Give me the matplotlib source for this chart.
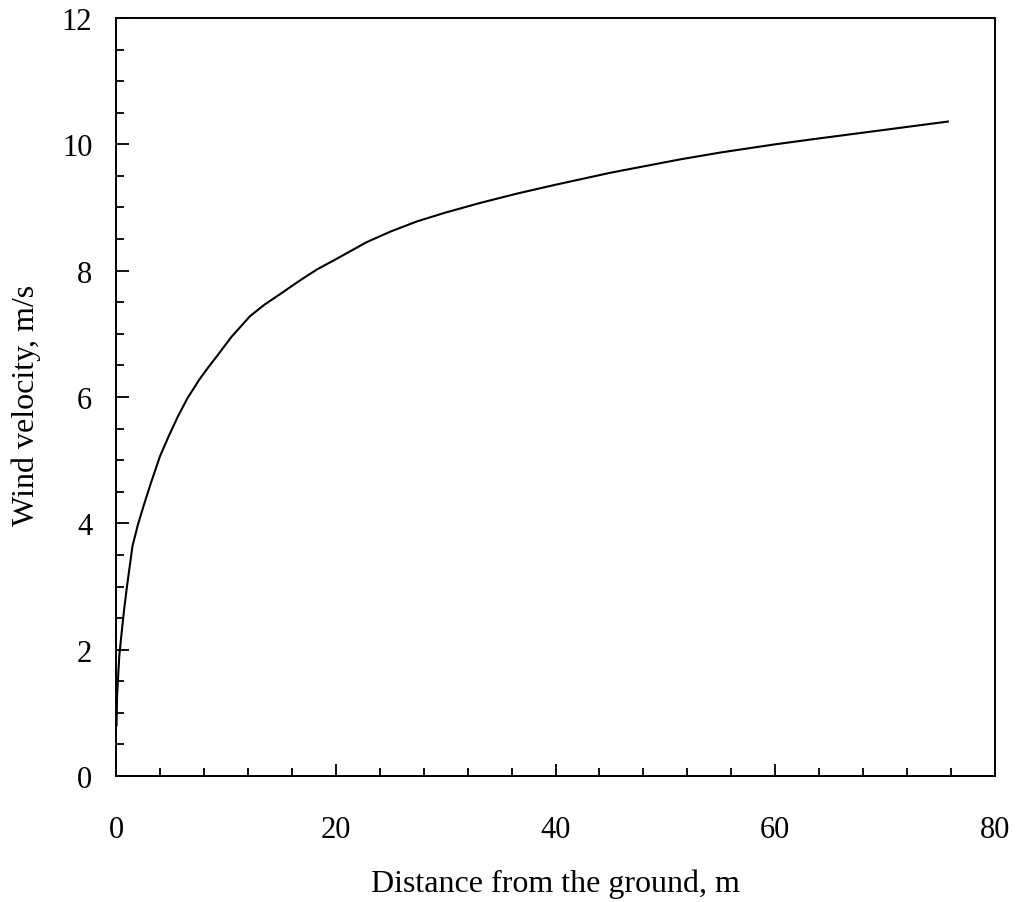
import numpy as np
import matplotlib.pyplot as plt
from matplotlib.ticker import MultipleLocator

# wind velocity profile
distance = [0.05, 0.1, 0.3, 0.55, 0.75, 1.0, 1.5, 2.0, 2.5, 3.2, 4.0, 4.8, 5.6,
            6.5, 7.6, 8.4, 9.2, 10.5, 12.2, 13.5, 15.2, 16.7, 18.3, 20.0, 22.8,
            25.0, 27.4, 30.0, 33.1, 36.5, 40.0, 45.0, 51.3, 55.0, 60.0, 63.4,
            70.0, 75.7]
velocity = [0.8, 1.27, 1.9, 2.33, 2.65, 3.0, 3.64, 3.98, 4.27, 4.65, 5.06, 5.38, 5.68,
            5.98, 6.28, 6.47, 6.65, 6.95, 7.28, 7.46, 7.66, 7.84, 8.02, 8.18, 8.45,
            8.62, 8.78, 8.92, 9.07, 9.22, 9.36, 9.55, 9.76, 9.87, 10.0, 10.08,
            10.23, 10.36]

plt.rcParams['font.family'] = ['Liberation Serif', 'DejaVu Serif']

fig = plt.figure(figsize=(10.21, 9.03), dpi=100)
ax = fig.add_axes([0.1136, 0.1395, 0.861, 0.8395])

ax.plot(distance, velocity, color='black', linewidth=1.5)

ax.set_xlim(0, 80)
ax.set_ylim(0, 12)
ax.xaxis.set_major_locator(MultipleLocator(20))
ax.xaxis.set_minor_locator(MultipleLocator(4))
ax.yaxis.set_major_locator(MultipleLocator(2))
ax.yaxis.set_minor_locator(MultipleLocator(0.5))

ax.tick_params(which='both', direction='in', top=False, right=False,
               width=1.3, colors='black')
ax.tick_params(which='major', length=9, labelsize=22)
ax.tick_params(which='minor', length=6)
ax.tick_params(axis='x', which='major', pad=28)
ax.tick_params(axis='y', which='major', pad=17)
for s in ax.spines.values():
    s.set_linewidth(1.4)

ax.set_xlabel('Distance from the ground, m', fontsize=23, va='top')
ax.set_ylabel('Wind velocity, m/s', fontsize=23)
ax.xaxis.set_label_coords(0.5, -0.122)
ax.yaxis.set_label_coords(-0.085, 0.49)

plt.savefig('out.png', dpi=100)
